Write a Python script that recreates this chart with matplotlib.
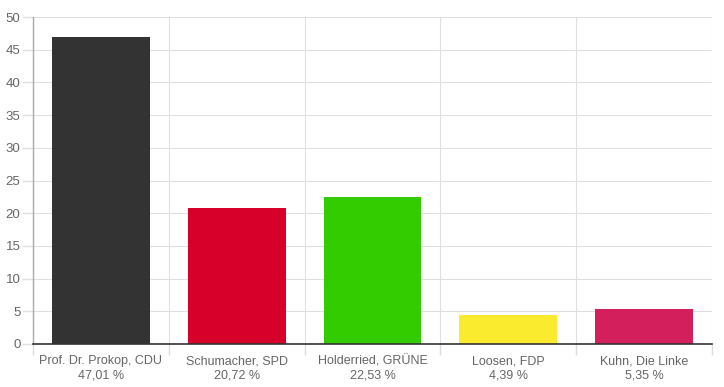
import numpy as np
import matplotlib.pyplot as plt

# Wahlergebnis, Balken je Kandidat
candidates = ["Prof. Dr. Prokop, CDU", "Schumacher, SPD", "Holderried, GRÜNE",
              "Loosen, FDP", "Kuhn, Die Linke"]
shares = [47.01, 20.72, 22.53, 4.39, 5.35]
share_labels = ["47,01 %", "20,72 %", "22,53 %", "4,39 %", "5,35 %"]
colors = ["#333333", "#d7002a", "#33cc00", "#fbeb2e", "#d3205d"]

plt.rcParams['font.family'] = ['Liberation Sans', 'DejaVu Sans']

fig = plt.figure(figsize=(7.24, 3.87), dpi=100)
ax = fig.add_axes([33 / 724, 1 - 344 / 387, (712 - 33) / 724, (344 - 17) / 387])

x = np.arange(len(candidates))
ax.bar(x, shares, width=0.72, color=colors, zorder=2)

ax.set_xlim(-0.5, len(candidates) - 0.5)
ax.set_ylim(0, 50)
ax.set_yticks(range(0, 51, 5))

# category labels at centres, grid lines at boundaries
ax.set_xticks(x)
ax.set_xticklabels([f"{c}\n{s}" for c, s in zip(candidates, share_labels)],
                   fontsize=9, color="#666666", linespacing=1.25)
ax.set_xticks(np.arange(-0.5, len(candidates), 1), minor=True)
ax.tick_params(axis='x', which='major', length=0, pad=8)
ax.tick_params(axis='x', which='minor', length=8, color="#dddddd", width=1)
ax.tick_params(axis='y', length=8, color="#e0e0e0", width=1, labelsize=9.5,
               labelcolor="#666666", pad=1)

ax.grid(True, axis='y', color="#e0e0e0", linewidth=0.8, zorder=0)
ax.grid(True, axis='x', which='minor', color="#e0e0e0", linewidth=0.8, zorder=0)

for side in ['top', 'right']:
    ax.spines[side].set_visible(False)
ax.spines['left'].set_color("#aaaaaa")
ax.spines['left'].set_linewidth(1)
ax.spines['bottom'].set_color("#333333")
ax.spines['bottom'].set_linewidth(1.2)
ax.spines['bottom'].set_zorder(3)

fig.savefig("out.png", dpi=100)
